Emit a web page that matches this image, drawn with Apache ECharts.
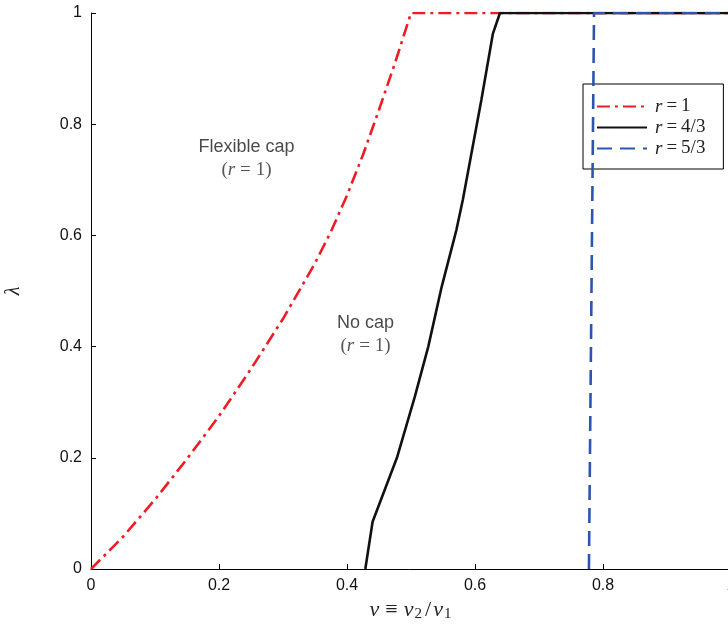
<!DOCTYPE html>
<html>
<head>
<meta charset="utf-8">
<script src="https://cdn.jsdelivr.net/npm/echarts@6/dist/echarts.min.js"></script>
<style>
html,body{margin:0;padding:0;background:#fff;}
#chart{width:728px;height:628px;}
</style>
</head>
<body>
<div id="chart"></div>
<script>
// Data
const seriesNames = ['r = 1', 'r = 4/3', 'r = 5/3'];
const seriesLabels = ['1', '4/3', '5/3'];
const redX = [0, 0.05, 0.1, 0.15, 0.2, 0.25, 0.3, 0.35, 0.375, 0.4, 0.425, 0.45, 0.475, 0.5, 1];
const redY = [0, 0.058, 0.125, 0.198, 0.275, 0.36, 0.45, 0.55, 0.607, 0.672, 0.745, 0.826, 0.91, 1, 1];
const blackX = [0.4286, 0.44, 0.478, 0.506, 0.527, 0.548, 0.571, 0.581, 0.61, 0.628, 0.639, 1];
const blackY = [0, 0.085, 0.2, 0.31, 0.4, 0.508, 0.61, 0.664, 0.844, 0.963, 1, 1];
const blueX = [0.778, 0.786, 1];
const blueY = [0, 1, 1];
const annotations = [
  { x: 0.243, y: 0.738, title: 'Flexible cap', r: '1' },
  { x: 0.429, y: 0.421, title: 'No cap', r: '1' }
];
const xTicks = [0, 0.2, 0.4, 0.6, 0.8, 1];
const yTicks = [0, 0.2, 0.4, 0.6, 0.8, 1];

const zip = (xs, ys) => xs.map((x, i) => [x, ys[i]]);

const chart = echarts.init(document.getElementById('chart'), null, { renderer: 'canvas' });

const serif = 'Liberation Serif, DejaVu Serif, serif';
const sans = 'Liberation Sans, Arial, Helvetica, sans-serif';

const option = {
  animation: false,
  backgroundColor: '#fff',
  grid: { left: 91, top: 13, width: 640, height: 556, containLabel: false, outerBoundsMode: 'none' },
  xAxis: {
    type: 'value', min: xTicks[0], max: xTicks[xTicks.length - 1], interval: 0.2,
    axisLine: { show: true, onZero: false, lineStyle: { color: '#000', width: 1 } },
    axisTick: { show: true, inside: true, length: 5, lineStyle: { color: '#000' } },
    axisLabel: { color: '#111', fontFamily: sans, fontSize: 16, margin: 9,
      formatter: v => String(+v.toFixed(1)) },
    splitLine: { show: false },
    name: '{i|v}{o|≡}{i|v}{s|2}{q|/}{i|v}{s|1}',
    nameLocation: 'middle', nameGap: 28,
    nameTextStyle: {
      rich: {
        i: { fontFamily: serif, fontStyle: 'italic', fontSize: 22, color: '#222' },
        o: { fontFamily: serif, fontSize: 22, color: '#222', padding: [0, 6, 0, 6] },
        q: { fontFamily: serif, fontSize: 22, color: '#222', padding: [0, 2, 0, 2] },
        s: { fontFamily: serif, fontSize: 15, color: '#222', verticalAlign: 'bottom', padding: [9, 1, 0, 1] }
      }
    }
  },
  yAxis: {
    type: 'value', min: yTicks[0], max: yTicks[yTicks.length - 1], interval: 0.2,
    axisLine: { show: true, onZero: false, lineStyle: { color: '#000', width: 1 } },
    axisTick: { show: true, inside: true, length: 5, lineStyle: { color: '#000' } },
    axisLabel: { color: '#111', fontFamily: sans, fontSize: 16, margin: 9,
      formatter: v => String(+v.toFixed(1)) },
    splitLine: { show: false },
    name: 'λ', nameLocation: 'middle', nameGap: 67, nameRotate: 90,
    nameTextStyle: { fontFamily: serif, fontStyle: 'italic', fontSize: 20, color: '#222' }
  },
  legend: {
    orient: 'vertical', left: 583, top: 84,
    data: seriesNames,
    backgroundColor: '#fff',
    borderColor: '#000', borderWidth: 1,
    padding: [13, 18, 11, 13],
    itemGap: 2, itemWidth: 50, itemHeight: 14,
    itemStyle: { opacity: 0, borderWidth: 0 },
    formatter: name => '{i|r}{e|=}{o|' + seriesLabels[seriesNames.indexOf(name)] + '}',
    textStyle: {
      padding: [0, 0, 0, 3],
      rich: {
        i: { fontFamily: serif, fontStyle: 'italic', fontSize: 19, color: '#222', lineHeight: 19 },
        e: { fontFamily: serif, fontSize: 19, color: '#222', lineHeight: 19, padding: [0, 4, 0, 4] },
        o: { fontFamily: serif, fontSize: 19, color: '#222', lineHeight: 19 }
      }
    }
  },
  series: [
    {
      name: seriesNames[0], type: 'line', data: zip(redX, redY),
      showSymbol: false, symbol: 'none', z: 3,
      lineStyle: { color: '#ee1c25', width: 2.6, type: [13, 5, 3, 5] },
      itemStyle: { color: '#ee1c25' }
    },
    {
      name: seriesNames[1], type: 'line', data: zip(blackX, blackY),
      showSymbol: false, symbol: 'none', z: 4,
      lineStyle: { color: '#111', width: 2.6, type: 'solid' },
      itemStyle: { color: '#111' }
    },
    {
      name: seriesNames[2], type: 'line', data: zip(blueX, blueY),
      showSymbol: false, symbol: 'none', z: 5,
      lineStyle: { color: '#2b55b0', width: 2.6, type: [15, 8] },
      itemStyle: { color: '#2b55b0' }
    },
    {
      name: 'annotations', type: 'scatter', symbolSize: 0, silent: true,
      data: annotations.map(a => ({ value: [a.x, a.y], title: a.title, r: a.r })),
      label: {
        show: true, position: 'inside',
        formatter: p => '{t|' + p.data.title + '}\n{p|(}{i|r}{e|=}{p|' + p.data.r + ')}',
        align: 'center', verticalAlign: 'middle',
        rich: {
          t: { fontFamily: sans, fontSize: 18, color: '#1a1a1a', lineHeight: 23, align: 'center' },
          p: { fontFamily: serif, fontSize: 19, color: '#2a2a2a', lineHeight: 23 },
          e: { fontFamily: serif, fontSize: 19, color: '#2a2a2a', lineHeight: 23, padding: [0, 5, 0, 5] },
          i: { fontFamily: serif, fontStyle: 'italic', fontSize: 19, color: '#2a2a2a', lineHeight: 23 }
        }
      },
      z: 6
    }
  ]
};
chart.setOption(option);
</script>
</body>
</html>
